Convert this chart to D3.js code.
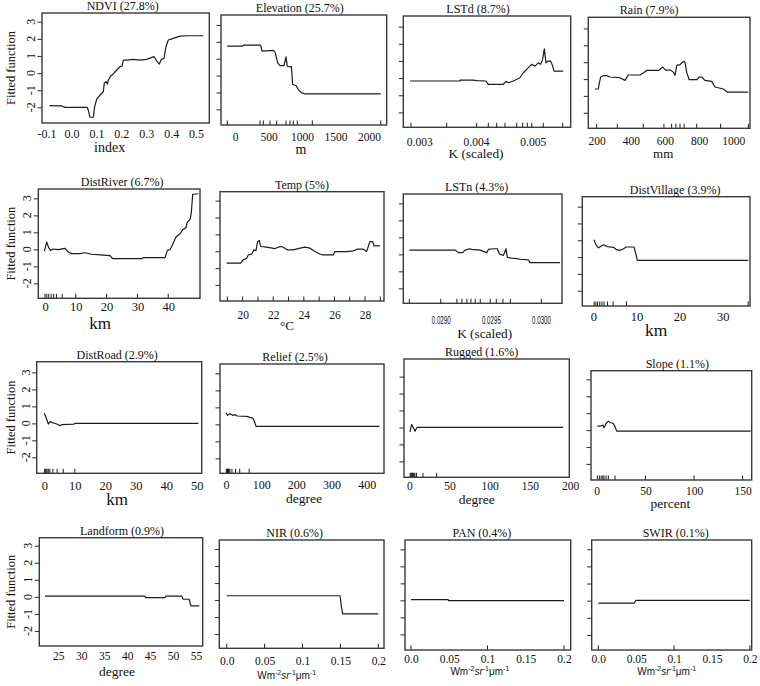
<!DOCTYPE html>
<html><head><meta charset="utf-8">
<script src="https://cdn.jsdelivr.net/npm/d3@7"></script>
<style>
body{margin:0;background:#fff}
svg{display:block}
text{font-family:"Liberation Serif","Times New Roman",serif;fill:#111}
</style>
</head><body>
<svg id="c" width="760" height="686"></svg>
<script>
// ---------- data ----------
const titles = ["NDVI (27.8%)","Elevation (25.7%)","LSTd (8.7%)","Rain (7.9%)",
  "DistRiver (6.7%)","Temp (5%)","LSTn (4.3%)","DistVillage (3.9%)",
  "DistRoad (2.9%)","Relief (2.5%)","Rugged (1.6%)","Slope (1.1%)",
  "Landform (0.9%)","NIR (0.6%)","PAN (0.4%)","SWIR (0.1%)"];
const xTitles = ["index","m","K (scaled)","mm","km","°C","K (scaled)","km",
  "km","degree","degree","percent","degree","UNIT","UNIT","UNIT"];
const xTickLabels = [
  ["-0.1","0.0","0.1","0.2","0.3","0.4","0.5"],
  ["0","500","1000","1500","2000"],
  ["0.003","0.004","0.005"],
  ["200","400","600","800","1000"],
  ["0","10","20","30","40"],
  ["20","22","24","26","28"],
  ["0.0290","0.0295","0.0300"],
  ["0","10","20","30"],
  ["0","10","20","30","40","50"],
  ["0","100","200","300","400"],
  ["0","50","100","150","200"],
  ["0","50","100","150"],
  ["25","30","35","40","45","50","55"],
  ["0.0","0.05","0.1","0.15","0.2"],
  ["0.0","0.05","0.1","0.15","0.2"],
  ["0.0","0.05","0.1","0.15","0.2"]];
const xExtents = [[-0.1182,0.5529],[-209,2264],[0.002718,0.005670],[151,1098],
  [-2.18,50.32],[18.52,29.24],[0.028627,0.030209],[-2.55,36.33],
  [-2.5,51.6],[-17,449],[-6.6,199],[-5.9,159.3],
  [20.86,56.46],[-0.0098,0.2075],[-0.0078,0.2088],[-0.0087,0.2024]];
const yExtents = [[-2.915,3.51],[-2.93,3.59],[-2.87,3.62],[-2.92,3.66],
  [-2.88,3.55],[-2.95,3.53],[-2.88,3.55],[-2.91,3.59],
  [-2.94,3.63],[-2.88,3.55],[-2.94,4.04],[-2.95,3.51],
  [-2.88,3.47],[-2.84,3.53],[-2.92,3.55],[-2.88,3.54]];
const yTickValues = [3,2,1,0,-1,-2];
const yTickLabels = ["3","2","1","0","-1","-2"];
const yTitle = "Fitted function";

const ndvi = [[-0.0888,-1.90],[-0.0393,-1.92],[-0.0259,-2.00],[0.0636,-2.00],[0.0690,-2.25],[0.0743,-2.58],[0.0877,-2.58],[0.0931,-1.96],[0.1011,-1.53],[0.1145,-1.28],[0.1278,-1.09],[0.1318,-0.56],[0.1385,-0.50],[0.1439,-0.64],[0.1479,-0.40],[0.1572,-0.17],[0.1679,-0.05],[0.1813,0.18],[0.1947,0.37],[0.2027,0.41],[0.2080,0.76],[0.2214,0.76],[0.2482,0.80],[0.2749,0.76],[0.3016,0.80],[0.3310,0.96],[0.3417,0.72],[0.3524,0.53],[0.3604,0.80],[0.3711,0.86],[0.3791,1.54],[0.3885,1.93],[0.4085,2.03],[0.4353,2.16],[0.4620,2.18],[0.5289,2.18]];
const elevation = [[-115,1.74],[115,1.74],[125,1.80],[383,1.80],[403,1.45],[572,1.49],[597,1.39],[637,0.75],[672,0.59],[731,0.59],[761,1.11],[781,0.55],[821,0.51],[841,0.55],[861,-0.53],[910,-0.59],[945,-0.83],[995,-1.03],[1045,-1.09],[2175,-1.09]];
const lstd = [[0.002836,-0.17],[0.003718,-0.17],[0.003718,-0.12],[0.003952,-0.12],[0.004011,-0.15],[0.004176,-0.17],[0.004217,-0.37],[0.004481,-0.37],[0.004528,-0.19],[0.00457,-0.27],[0.004658,-0.17],[0.004776,0.02],[0.004835,0.31],[0.004893,0.51],[0.004981,0.80],[0.00504,0.70],[0.005099,0.89],[0.00514,0.80],[0.005175,1.09],[0.005205,1.71],[0.005234,0.89],[0.005275,0.99],[0.005317,0.99],[0.005352,0.70],[0.005376,0.41],[0.005540,0.41]];
const rain = [[190,-0.59],[209,-0.59],[223,0.12],[239,0.20],[258,0.20],[278,0.12],[336,0.08],[366,-0.08],[385,0.24],[454,0.24],[473,0.36],[493,0.51],[561,0.51],[587,0.71],[606,0.51],[629,0.55],[649,0.41],[659,0.22],[669,0.81],[688,0.85],[708,1.05],[717,1.01],[727,0.41],[742,-0.04],[786,-0.04],[801,0.12],[815,0.12],[834,-0.08],[874,-0.14],[893,-0.47],[941,-0.59],[965,-0.77],[1088,-0.77]];
const distRiver = [[-0.21,-0.10],[0.54,0.43],[1.19,0.10],[1.84,-0.06],[2.71,0.02],[4.33,-0.02],[6.49,0.06],[7.58,-0.16],[8.66,-0.25],[11.36,-0.25],[12.99,-0.20],[15.15,-0.29],[17.86,-0.33],[21.1,-0.37],[21.97,-0.55],[31.39,-0.55],[31.93,-0.49],[38.96,-0.49],[39.72,-0.06],[40.58,-0.02],[41.45,0.29],[42.53,0.73],[43.83,0.92],[44.7,1.16],[45.78,1.27],[46.21,1.61],[47.08,1.75],[47.5,2.14],[47.94,3.24],[49.78,3.27]];
const temp = [[18.95,-0.71],[19.87,-0.71],[20.04,-0.51],[20.26,-0.42],[20.37,-0.22],[20.59,-0.16],[20.74,0.08],[20.87,0.04],[20.98,0.57],[21.09,0.63],[21.18,0.28],[21.57,0.24],[22.11,0.16],[22.33,0.24],[22.55,0.28],[22.76,0.18],[22.92,0.08],[23.31,0.08],[23.75,0.18],[24.07,0.24],[24.4,0.18],[24.73,-0.02],[25.05,-0.16],[25.23,-0.22],[25.92,-0.22],[26.03,-0.02],[26.8,-0.02],[27.23,0.02],[27.49,0.12],[27.88,0.12],[28.1,-0.02],[28.32,0.57],[28.5,0.57],[28.58,0.32],[28.97,0.32]];
const lstn = [[0.028687,0.25],[0.029143,0.25],[0.029176,0.10],[0.029219,0.10],[0.029242,0.25],[0.029285,0.33],[0.029309,0.29],[0.029392,0.25],[0.029459,0.10],[0.029475,0.29],[0.029525,0.33],[0.029565,0.33],[0.029585,0.02],[0.029625,-0.06],[0.029651,0.33],[0.029664,-0.18],[0.029708,-0.22],[0.029758,-0.25],[0.029791,-0.29],[0.029874,-0.33],[0.029890,-0.49],[0.030190,-0.49]];
const distVillage = [[0.16,1.03],[0.63,0.73],[1.16,0.54],[1.94,0.67],[2.48,0.73],[3.1,0.63],[4.64,0.58],[5.42,0.44],[6.03,0.40],[6.96,0.48],[7.58,0.60],[9.44,0.60],[9.9,0.14],[10.2,-0.20],[35.94,-0.20]];
const distRoad = [[0,0.59],[0.56,0.35],[1.31,-0.04],[1.87,0.10],[2.95,0.02],[4.07,-0.04],[5.15,-0.14],[5.7,-0.08],[9.74,-0.04],[10.1,0],[50.5,0]];
const relief = [[0,0.67],[4.7,0.53],[11.4,0.63],[19,0.53],[25.6,0.57],[32.2,0.49],[58.7,0.47],[75.8,0.37],[79.6,0.24],[85.3,-0.12],[436,-0.12]];
const rugged = [[0.87,-0.26],[2.9,0.18],[5,-0.02],[7.1,-0.22],[9.2,-0.02],[11.2,0.02],[13.3,0],[191.4,0]];
const slope = [[0.65,0.24],[4.1,0.24],[6.2,0.30],[7.5,0.14],[9.6,0.39],[11.9,0.53],[13.7,0.45],[17.1,0.39],[18.8,0.20],[20.5,-0.06],[158.2,-0.06]];
const landform = [[22.1,0.04],[43.9,0.04],[43.99,-0.04],[48.25,-0.04],[48.4,0.04],[51.9,0.04],[52.2,-0.14],[53.5,-0.14],[53.9,-0.53],[55.7,-0.53]];
const nir = [[0,0.25],[0.1495,0.25],[0.1517,-0.49],[0.153,-0.82],[0.2,-0.82]];
const pan = [[0,0.04],[0.0488,0.04],[0.049,-0.02],[0.2,-0.02]];
const swir = [[0,-0.14],[0.0475,-0.14],[0.0497,0.02],[0.2,0.02]];

const rugs = [
  [],
  [-115,373,423,522,622,761,821,870,930,1154,2175],
  [0.002854,0.003483,0.004012,0.004217,0.004365,0.004511,0.004718,0.004823,0.004905,0.004983,0.005187,0.005529],
  [200,321,473,594,639,664,688,712,786,926,1088],
  [0,0.6,1.2,2.0,2.8,3.7,5.6,10,20,30,40],
  [19,20,21,22,23,24,25,26,27,28,29],
  [0.028687,0.0290,0.029161,0.029211,0.029261,0.029301,0.029344,0.029394,0.029494,0.029554,0.029620,0.029694,0.030003],
  [0.2,0.6,1.0,1.5,2.0,2.5,3.3,4.6,7.7,35.9],
  [0.1,0.3,0.6,0.9,1.3,1.8,2.8,4.2,6.2,10],
  [1,2.5,4,5.5,7,9,11,17,27,39,66],
  [1,2,3,4,5,6,7,9,17,34],
  [0.65,2.7,4.5,6.2,7.5,9.6,11.9,18.8,50,100,150],
  [],
  [0,0.05,0.1,0.15,0.2],
  [0,0.1,0.2],
  [0,0.1,0.2]];

const curves = [ndvi,elevation,lstd,rain,distRiver,temp,lstn,distVillage,
  distRoad,relief,rugged,slope,landform,nir,pan,swir];

// ---------- layout (pixels) ----------
// [x, y, w, h, tickLabelDy, xTitleDy, tickFont, xTitleFont, xTitleDx, titleDx]
const boxes = [
  [42,13,167.3,110, 15,29, 12,14, -16,-3],
  [221,15,165.7,110, 16,29, 11.5,14, -3,-4],
  [403.3,16,167.4,111.3, 18.5,31, 11.5,13.3, -11,-9],
  [588.3,17.3,161.7,111, 17,30, 11.5,13, -6,-20],
  [38.3,189,161.7,109.3, 12.5,31, 12.5,17, -19,3],
  [220,191.7,164,109.3, 17.5,29, 11.5,13, -15,0],
  [403.3,194,158.7,109.3, 21,35, 10.5,13.3, 2,-6],
  [582.3,196.7,167.7,109.3, 15,29.5, 12.5,17.5, -10,9],
  [36.7,361.7,165,111.6, 16.5,32, 12.5,17, -2,-2],
  [220,364,164,109.3, 15.5,30, 12,13.5, 2,-7],
  [404,359,165.3,118.3, 13,26.5, 11.5,13.5, -10,-5],
  [591,370.7,160.7,109.3, 14.5,27.5, 11.5,13.5, -1,6],
  [39.3,537.7,163.4,108.3, 14,30, 11.5,13.5, -4,1],
  [219.3,540,164.7,108.3, 17,30.5, 11.5,10, -15,-7],
  [405,540,165.7,110, 13,24.5, 11.5,10, -8,-6],
  [591.7,540,160,110, 13,24.5, 11.5,10, -5,4]];

const svg = d3.select("#c");
const ink = "#1c1c1c", frameCol = "#3a3a3a";
const serif = "'Liberation Serif','Times New Roman',serif";

curves.forEach((data, i) => {
  const [bx,by,bw,bh,ldy,tdy,tf,xf,xdx,tdx] = boxes[i];
  const x = d3.scaleLinear().domain(xExtents[i]).range([bx, bx+bw]);
  const y = d3.scaleLinear().domain(yExtents[i]).range([by+bh, by]);
  const g = svg.append("g");

  // curve
  g.append("path").datum(data)
    .attr("d", d3.line().x(d => x(d[0])).y(d => y(d[1])))
    .attr("fill","none").attr("stroke",ink).attr("stroke-width",1.2)
    .attr("stroke-linejoin","round");

  // rug / inner ticks
  g.selectAll("line.rug").data(rugs[i]).join("line").attr("class","rug")
    .attr("x1", d => x(d)).attr("x2", d => x(d))
    .attr("y1", by+bh).attr("y2", by+bh-4.5)
    .attr("stroke",ink).attr("stroke-width",1);

  // frame
  g.append("rect").attr("x",bx).attr("y",by).attr("width",bw).attr("height",bh)
    .attr("fill","none").attr("stroke",frameCol).attr("stroke-width",1.4);

  // y axis ticks (outward)
  const ya = g.append("g").attr("transform",`translate(${bx},0)`)
    .call(d3.axisLeft(y).tickValues(yTickValues).tickSize(4.5).tickFormat(""));
  ya.select(".domain").remove();
  ya.selectAll("line").attr("stroke",frameCol).attr("stroke-width",1.1);

  // y labels on first column
  if (i % 4 === 0) {
    g.selectAll("text.yl").data(yTickValues).join("text").attr("class","yl")
      .attr("transform", (d) => `translate(${bx-7},${y(d)}) rotate(-90)`)
      .attr("text-anchor","middle").attr("font-size",12).style("font-family",serif)
      .text((d,j) => yTickLabels[j]);
    g.append("text")
      .attr("transform", `translate(15,${by+bh/2}) rotate(-90)`)
      .attr("text-anchor","middle").attr("font-size",12.5).style("font-family",serif)
      .text(yTitle);
  }

  // x tick labels via axis
  const vals = xTickLabels[i].map(Number);
  const xa = g.append("g").attr("transform",`translate(0,${by+bh})`)
    .call(d3.axisBottom(x).tickValues(vals).tickSize(0)
      .tickFormat((d,j) => xTickLabels[i][j]));
  xa.select(".domain").remove();
  xa.selectAll("line").remove();
  const tx = xa.selectAll("text").attr("y", ldy).attr("dy", 0)
    .attr("fill","#111").attr("font-size", tf);
  if (i === 6) {
    tx.style("font-family","'Liberation Sans Narrow','Liberation Sans',Arial,sans-serif")
      .attr("textLength",19).attr("lengthAdjust","spacingAndGlyphs");
  } else {
    tx.style("font-family", serif);
  }

  // x title
  const cx = bx + bw/2;
  if (xTitles[i] === "UNIT") {
    const t = g.append("text").attr("x", cx + xdx).attr("y", by+bh+tdy)
      .attr("text-anchor","middle")
      .style("font-family","'Liberation Sans',Arial,sans-serif").attr("font-size", xf);
    t.append("tspan").text("Wm");
    t.append("tspan").attr("dy",-4).attr("font-size",7).text("-2");
    t.append("tspan").attr("dy",4).attr("font-style","italic").text("sr");
    t.append("tspan").attr("dy",-4).attr("font-size",7).text("-1");
    t.append("tspan").attr("dy",4).text("\u03bcm");
    t.append("tspan").attr("dy",-4).attr("font-size",7).text("-1");
  } else {
    g.append("text").attr("x", cx + xdx).attr("y", by+bh+tdy)
      .attr("text-anchor","middle").attr("font-size", xf).style("font-family",serif)
      .text(xTitles[i]);
  }

  // panel title
  g.append("text").attr("x", cx + tdx).attr("y", by-3)
    .attr("text-anchor","middle").attr("font-size",12).style("font-family",serif)
    .text(titles[i]);
});
</script>
</body></html>
